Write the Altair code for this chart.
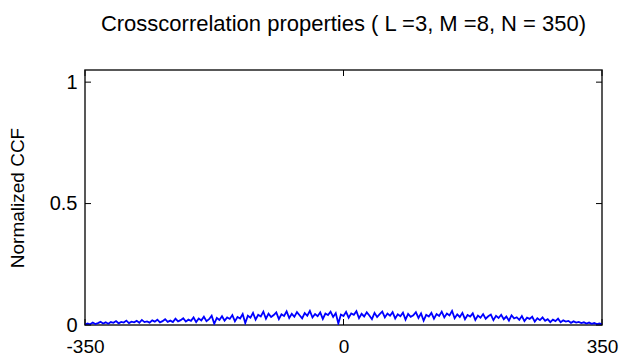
import altair as alt
import pandas as pd

ccf = [
    0.002, 0.006, 0.003, 0.010, 0.004, 0.008, 0.013, 0.006, 0.011, 0.005,
    0.012, 0.009, 0.016, 0.007, 0.013, 0.010, 0.018, 0.008, 0.014, 0.011,
    0.017, 0.009, 0.021, 0.012, 0.015, 0.010, 0.019, 0.014, 0.022, 0.011,
    0.016, 0.024, 0.013, 0.018, 0.012, 0.026, 0.015, 0.020, 0.028, 0.014,
    0.022, 0.017, 0.031, 0.012, 0.027, 0.019, 0.034, 0.016, 0.024, 0.038,
    0.005, 0.029, 0.021, 0.036, 0.018, 0.031, 0.025, 0.041, 0.015, 0.033,
    0.027, 0.045, 0.008, 0.038, 0.030, 0.050, 0.022, 0.042, 0.035, 0.055,
    0.026, 0.047, 0.033, 0.041, 0.052, 0.024, 0.044, 0.037, 0.056, 0.029,
    0.046, 0.034, 0.053, 0.040, 0.027, 0.049, 0.038, 0.058, 0.031, 0.045,
    0.036, 0.052, 0.025, 0.047, 0.041, 0.055, 0.033, 0.049, 0.006, 0.043,
    0.037, 0.054, 0.030, 0.048, 0.042, 0.057, 0.028, 0.046, 0.035, 0.052,
    0.039, 0.024, 0.050, 0.033, 0.045, 0.055, 0.031, 0.047, 0.038, 0.053,
    0.027, 0.044, 0.036, 0.051, 0.022, 0.046, 0.034, 0.040, 0.053, 0.029,
    0.048, 0.018, 0.042, 0.035, 0.050, 0.026, 0.045, 0.037, 0.055, 0.031,
    0.047, 0.039, 0.058, 0.028, 0.044, 0.033, 0.050, 0.024, 0.041, 0.035,
    0.048, 0.021, 0.039, 0.030, 0.045, 0.026, 0.036, 0.043, 0.020, 0.038,
    0.029, 0.042, 0.024, 0.035, 0.018, 0.040, 0.027, 0.032, 0.021, 0.037,
    0.016, 0.030, 0.025, 0.034, 0.014, 0.028, 0.020, 0.031, 0.017, 0.024,
    0.012, 0.022, 0.016, 0.026, 0.011, 0.019, 0.014, 0.017, 0.009, 0.015,
    0.010, 0.013, 0.008, 0.011, 0.006, 0.010, 0.005, 0.008, 0.004, 0.006,
    0.003,
]
lags = [-350 + 3.5 * i for i in range(len(ccf))]
x_ticks = [-350, 0, 350]
y_ticks = [0, 0.5, 1]
title_text = "Crosscorrelation properties ( L =3, M =8, N = 350)"
y_title = "Normalized CCF"

W, H = 517, 255
FONT = "Liberation Sans, Arial, sans-serif"

df = pd.DataFrame({"lag": lags, "ccf": ccf})
xdf = pd.DataFrame({"t": x_ticks})
ydf = pd.DataFrame({"t": y_ticks})

xs = alt.Scale(domain=[-350, 350], nice=False, zero=False)
ys = alt.Scale(domain=[0, 1.05], nice=False, zero=False)

line = alt.Chart(df).mark_line(color="#0000ff", strokeWidth=1.8, clip=True).encode(
    x=alt.X("lag:Q", scale=xs, axis=alt.Axis(values=x_ticks, title=None, grid=False, domain=False,
                                             ticks=False, labelFontSize=19, labelFont=FONT,
                                             labelExpr="replace(format(datum.value, 'd'), '−', '-')",
                                             labelColor="#000", labelPadding=12, labelFlush=False)),
    y=alt.Y("ccf:Q", scale=ys, axis=alt.Axis(values=y_ticks, title=y_title, grid=False, domain=False,
                                             ticks=False, labelFontSize=20, labelFont=FONT,
                                             format=".1~f",
                                             labelColor="#000", labelPadding=8,
                                             titleFont=FONT, titleFontSize=19, titleFontWeight="normal",
                                             titleColor="#000", titlePadding=22)),
)

tb = alt.Chart(xdf).mark_rule(color="#000", strokeWidth=1).encode(
    x=alt.X("t:Q", scale=xs), y=alt.value(H), y2=alt.value(H - 6))
tt = alt.Chart(xdf).mark_rule(color="#000", strokeWidth=1).encode(
    x=alt.X("t:Q", scale=xs), y=alt.value(0), y2=alt.value(6))
tl = alt.Chart(ydf).mark_rule(color="#000", strokeWidth=1).encode(
    y=alt.Y("t:Q", scale=ys), x=alt.value(0), x2=alt.value(6))
tr = alt.Chart(ydf).mark_rule(color="#000", strokeWidth=1).encode(
    y=alt.Y("t:Q", scale=ys), x=alt.value(W), x2=alt.value(W - 6))

chart = alt.layer(line, tb, tt, tl, tr).properties(
    width=W, height=H,
    title=alt.TitleParams(title_text, font=FONT, fontSize=22, fontWeight="normal",
                          color="#000", offset=34, anchor="middle"),
    autosize=alt.AutoSizeParams(type="none"),
    padding={"left": 85, "top": 70, "right": 23, "bottom": 38},
).configure(background="white").configure_view(stroke="#222", strokeWidth=1.5)

chart.save("out.html", embed_options={"renderer": "svg", "actions": False})
